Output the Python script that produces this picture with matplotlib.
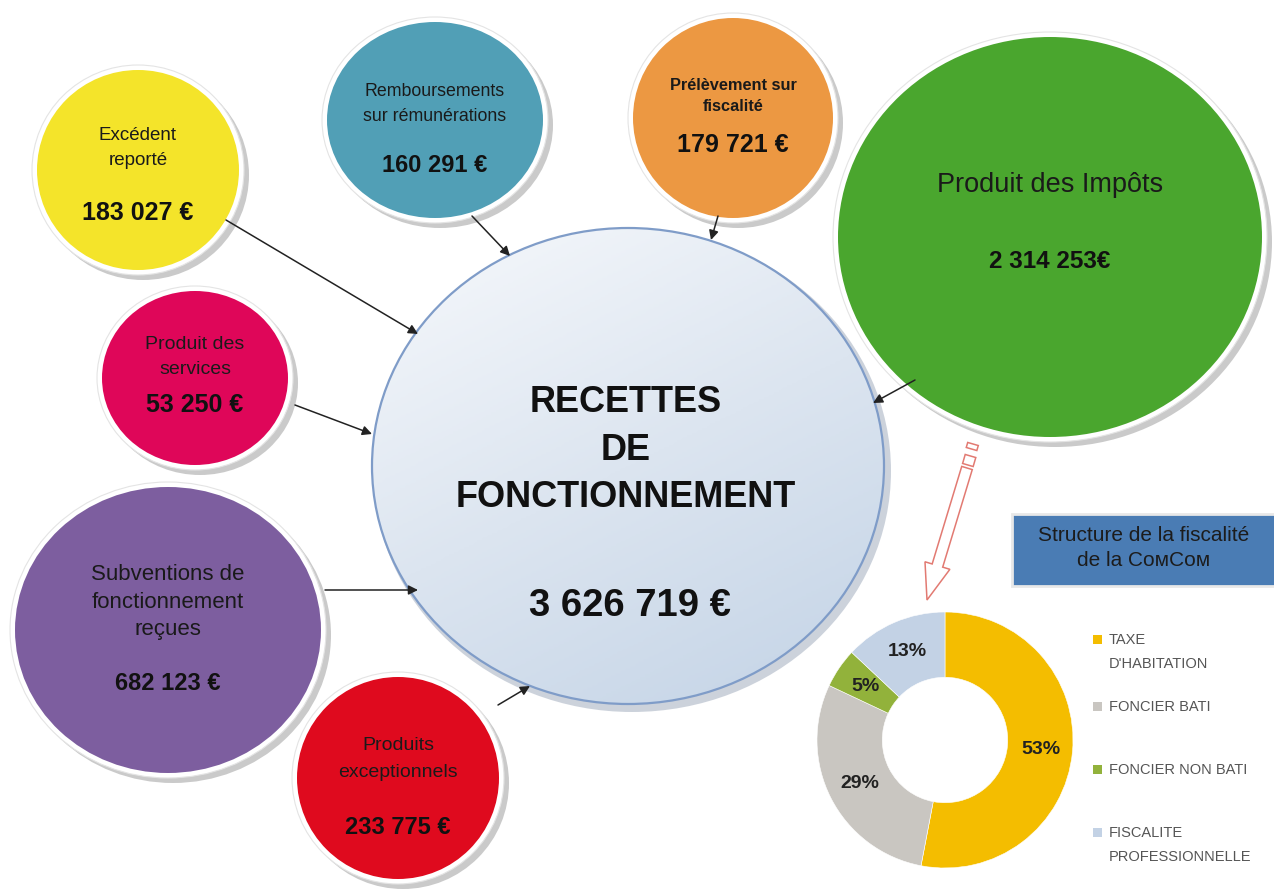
"""Recettes de fonctionnement - bubble infographic with fiscal-structure donut."""
import numpy as np
import matplotlib
matplotlib.use("Agg")
import matplotlib.pyplot as plt
from matplotlib.patches import Ellipse, FancyArrow, Rectangle

FONT = ["Liberation Sans Narrow", "Liberation Sans", "DejaVu Sans"]
plt.rcParams["font.family"] = FONT

# ── data ────────────────────────────────────────────────────
bubble_labels = ["Excédent\nreporté", "Remboursements\nsur rémunérations",
                 "Prélèvement sur\nfiscalité", "Produit des Impôts",
                 "Produit des\nservices", "Subventions de\nfonctionnement\nreçues",
                 "Produits\nexceptionnels"]
bubble_values = ["183 027 €", "160 291 €", "179 721 €", "2 314 253€",
                 "53 250 €", "682 123 €", "233 775 €"]
total_label = "RECETTES\nDE\nFONCTIONNEMENT"
total_value = "3 626 719 €"

fisc_labels = ["TAXE\nD'HABITATION", "FONCIER BATI", "FONCIER NON BATI",
               "FISCALITE\nPROFESSIONNELLE"]
fisc_shares = [53, 29, 5, 13]
fisc_title = "Structure de la fiscalité\nde la C\u1d0f\u1d0dC\u1d0f\u1d0d"

# ── layout (pixel coords, y downward) ───────────────────────
# cx, cy, rx, ry, color, label y, value y, label size, value size, weight, linespacing
BUBBLES = [
    (138, 170, 101, 100, "#F4E42A", 148, 213, 13.5, 18, "normal", 1.55),
    (435, 120, 108, 98, "#519FB6", 104, 165, 12.8, 17, "normal", 1.6),
    (733, 118, 100, 100, "#EC9842", 96, 145, 11.8, 18, "bold", 1.55),
    (1050, 237, 212, 200, "#4AA62E", 185, 262, 19.5, 17.5, "normal", 1.3),
    (195, 378, 93, 87, "#DF0659", 357, 405, 14, 18, "normal", 1.65),
    (168, 630, 153, 143, "#7D5E9F", 602, 684, 16, 17, "normal", 1.38),
    (398, 778, 101, 101, "#DF0A1E", 759, 828, 14, 17, "normal", 1.7),
]
ARROWS = [((226, 220), (418, 334)), ((472, 216), (510, 256)),
          ((718, 216), (711, 240)), ((915, 380), (873, 403)),
          ((295, 405), (372, 434)), ((325, 590), (418, 590)),
          ((498, 705), (530, 686))]
CENTER = (628, 466, 256, 238)
DONUT = (945, 740, 128)
FISC_COLORS = ["#F4BD00", "#C9C6C1", "#92B23B", "#C3D2E5"]

fig = plt.figure(figsize=(12.74, 8.94), dpi=100)
ax = fig.add_axes([0, 0, 1, 1])

# connector arrows
for (x0, y0), (x1, y1) in ARROWS:
    ax.annotate("", xy=(x1, y1), xytext=(x0, y0),
                arrowprops=dict(arrowstyle="-|>", color="#222222", lw=1.1,
                                mutation_scale=14, shrinkA=0, shrinkB=0),
                zorder=4.5)

def bubble(cx, cy, rx, ry, color, z=3):
    ax.add_patch(Ellipse((cx + 5, cy + 5), 2 * rx + 10, 2 * ry + 10,
                         facecolor="#8a8a8a", edgecolor="none", alpha=0.45, zorder=z))
    ax.add_patch(Ellipse((cx, cy), 2 * rx + 10, 2 * ry + 10,
                         facecolor="white", edgecolor="#e4e4e4", lw=0.8, zorder=z + 0.1))
    ax.add_patch(Ellipse((cx, cy), 2 * rx, 2 * ry,
                         facecolor=color, edgecolor="none", zorder=z + 0.2))

for (cx, cy, rx, ry, col, ly, vy, ls, vs, lw_, lsp), lab, val in zip(
        BUBBLES, bubble_labels, bubble_values):
    bubble(cx, cy, rx, ry, col)
    ax.text(cx, ly, lab, ha="center", va="center", fontsize=ls, fontweight=lw_,
            color="#1a1a1a", linespacing=lsp, zorder=5)
    ax.text(cx, vy, val, ha="center", va="center", fontsize=vs,
            fontweight="bold", color="#111111", zorder=5)

# central gradient circle
cx, cy, rx, ry = CENTER
ax.add_patch(Ellipse((cx + 4, cy + 5), 2 * rx + 6, 2 * ry + 6,
                     facecolor="#9aa6b8", edgecolor="none", alpha=0.5, zorder=2))
clip = Ellipse((cx, cy), 2 * rx, 2 * ry, facecolor="none",
               edgecolor="#7F9CC8", lw=1.6, zorder=4)
ax.add_patch(clip)
gy, gx = np.mgrid[0:1:200j, 0:1:200j]
grad = 0.65 * gy + 0.35 * gx
img = ax.imshow(grad, extent=(cx - rx, cx + rx, cy + ry, cy - ry),
                cmap=matplotlib.colors.LinearSegmentedColormap.from_list(
                    "c", ["#F7F9FC", "#DCE5F0", "#C3D3E6"]),
                origin="upper", zorder=3, aspect="auto")
img.set_clip_path(clip)
ax.text(cx - 2, 450, total_label, ha="center", va="center", fontsize=26,
        fontweight="bold", color="#111111", linespacing=1.45, zorder=5)
ax.text(cx + 2, 606, total_value, ha="center", va="center", fontsize=27.5,
        fontweight="bold", color="#111111", zorder=5)

# hollow red arrow from impôts to donut
ec = "#E27A72"
ax.add_patch(FancyArrow(967, 468, -40, 132, width=11, head_width=26,
                        head_length=36, length_includes_head=True,
                        facecolor="white", edgecolor=ec, lw=1.1, zorder=2))
for (x0, y0), ln in [((970.5, 456), 9), ((973, 444), 5)]:
    ax.add_patch(FancyArrow(x0, y0, -ln * 0.29, ln, width=11, head_width=11,
                            head_length=0.01, facecolor="white", edgecolor=ec,
                            lw=1.1, zorder=2))

# donut
dx, dy, dr = DONUT
wedges, _, autotexts = ax.pie(
    fisc_shares, colors=FISC_COLORS, startangle=-90, counterclock=True,
    center=(dx, dy), radius=dr, autopct=lambda p: f"{round(p):d}%",
    pctdistance=0.75,
    wedgeprops=dict(width=dr * 0.51, edgecolor="white", linewidth=0.4),
    textprops=dict(fontsize=14, color="#222222", fontweight="bold"))
for w in wedges:
    w.set_zorder(3)
for t in autotexts:
    t.set_zorder(5)

# title box
ax.add_patch(Rectangle((1012, 514), 270, 72, facecolor="#4A7CB4",
                       edgecolor="#e8e8e8", lw=2, zorder=3))
ax.text(1144, 548, fisc_title, ha="center", va="center", fontsize=15,
        color="#1c1c1c", linespacing=1.45, zorder=5)

# legend
LEG_Y = [652, 707, 770, 845]
for lab, col, y in zip(fisc_labels, FISC_COLORS, LEG_Y):
    n = lab.count("\n")
    top = y - 12.5 * n
    ax.add_patch(Rectangle((1093, top - 5), 9, 9, facecolor=col,
                           edgecolor="none", zorder=4))
    ax.text(1109, y, lab, ha="left", va="center", fontsize=10.5,
            color="#555555", linespacing=1.9, zorder=5)

ax.set_xlim(0, 1274)
ax.set_ylim(894, 0)
ax.set_aspect("equal")
ax.axis("off")

fig.savefig("out.png", dpi=100)
